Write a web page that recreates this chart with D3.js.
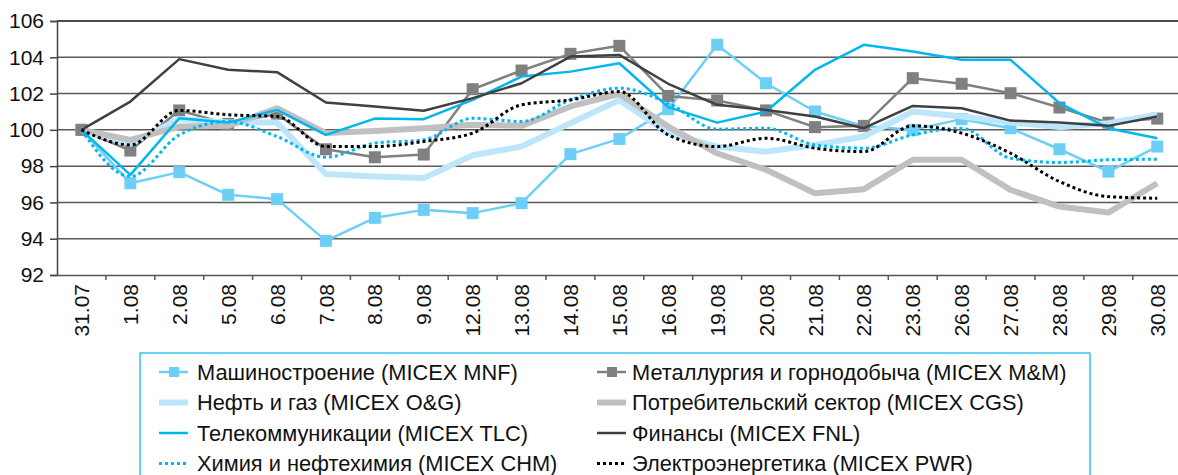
<!DOCTYPE html>
<html>
<head>
<meta charset="utf-8">
<script src="https://cdnjs.cloudflare.com/ajax/libs/d3/7.8.5/d3.min.js"></script>
<style>
  body { margin: 0; background: #fff; }
  svg text { font-family: "Liberation Sans", Arial, sans-serif; fill: #111; }
</style>
</head>
<body>
<div id="chart"></div>
<script>
// dates on the x axis
var dates = ["31.07","1.08","2.08","5.08","6.08","7.08","8.08","9.08","12.08","13.08","14.08",
  "15.08","16.08","19.08","20.08","21.08","22.08","23.08","26.08","27.08","28.08","29.08","30.08"];

var yTicks = [92, 94, 96, 98, 100, 102, 104, 106];

// sector indices, 31.07 = 100
var mnf = [100, 97.06, 97.67, 96.42, 96.18, 93.88, 95.15, 95.59, 95.41, 95.96, 98.66,
  99.5, 101.14, 104.69, 102.57, 101.01, 100.2, 100.0, 100.59, 100.09, 98.93, 97.7, 99.08];
var mm = [100, 98.86, 101.07, 100.33, 100.88, 98.93, 98.49, 98.64, 102.24, 103.27, 104.19,
  104.63, 101.87, 101.62, 101.07, 100.15, 100.22, 102.85, 102.54, 102.02, 101.23, 100.4, 100.62];
var og = [100, 99.23, 100.6, 100.4, 100.4, 97.57, 97.43, 97.34, 98.6, 99.08, 100.37,
  101.65, 99.82, 99.08, 98.8, 99.17, 99.63, 101.01, 100.74, 100.4, 100.15, 100.37, 100.83];
var cgs = [100, 99.45, 100.18, 100.22, 101.19, 99.82, 99.94, 100.09, 100.28, 100.22, 101.29,
  101.98, 100.18, 98.71, 97.8, 96.51, 96.73, 98.35, 98.35, 96.69, 95.77, 95.44, 97.06];
var tlc = [100, 97.52, 100.64, 100.4, 101.1, 99.72, 100.62, 100.59, 101.65, 102.94, 103.21,
  103.67, 101.25, 100.4, 101.01, 103.31, 104.69, 104.32, 103.86, 103.86, 101.47, 100.09, 99.54];
var fnl = [100, 101.56, 103.9, 103.31, 103.18, 101.51, 101.29, 101.05, 101.75, 102.57, 104.04,
  104.13, 102.54, 101.38, 101.1, 100.74, 100.09, 101.32, 101.19, 100.51, 100.4, 100.22, 100.74];
var chm = [100, 97.43, 99.72, 100.46, 99.63, 98.49, 99.27, 99.45, 100.64, 100.46, 101.65,
  102.3, 101.47, 100.04, 100.09, 99.17, 98.99, 99.72, 100.09, 98.44, 98.2, 98.35, 98.38];
var pwr = [100, 99.17, 101.07, 100.83, 100.74, 99.08, 99.08, 99.36, 99.82, 101.38, 101.65,
  102.11, 99.72, 99.08, 99.54, 98.99, 98.8, 100.22, 99.82, 98.71, 97.15, 96.32, 96.23];

var names = [
  "Машиностроение (MICEX MNF)",
  "Металлургия и горнодобыча (MICEX M&M)",
  "Нефть и газ (MICEX O&G)",
  "Потребительский сектор (MICEX CGS)",
  "Телекоммуникации (MICEX TLC)",
  "Финансы (MICEX FNL)",
  "Химия и нефтехимия (MICEX CHM)",
  "Электроэнергетика (MICEX PWR)"
];

var series = [
  {name: names[0], values: mnf, color: "#6dcff6", width: 2.5, marker: true},
  {name: names[1], values: mm,  color: "#808080", width: 2.5, marker: true},
  {name: names[2], values: og,  color: "#bde6fa", width: 6},
  {name: names[3], values: cgs, color: "#c0c0c0", width: 6},
  {name: names[4], values: tlc, color: "#00b7ef", width: 2.5},
  {name: names[5], values: fnl, color: "#404040", width: 2.5},
  {name: names[6], values: chm, color: "#00b7ef", width: 3, dash: "3,3", smooth: true},
  {name: names[7], values: pwr, color: "#000000", width: 3, dash: "3,3", smooth: true}
];

var W = 1178, H = 475;
var margin = {top: 21, left: 57, bottom: 200};

var svg = d3.select("#chart").append("svg")
  .attr("width", W)
  .attr("height", H);

var x = d3.scaleBand()
  .domain(dates)
  .range([margin.left, margin.left + 23 * 48.9]);

var y = d3.scaleLinear()
  .domain([92, 106])
  .range([H - margin.bottom, margin.top]);

// gridlines
svg.append("g")
  .selectAll("line")
  .data(yTicks.filter(function (d) { return d > 92; }))
  .enter().append("line")
    .attr("x1", margin.left)
    .attr("x2", W)
    .attr("y1", function (d) { return y(d); })
    .attr("y2", function (d) { return y(d); })
    .attr("stroke", function (d) { return d === 106 ? "#111" : "#5a5a5a"; })
    .attr("stroke-width", 1.5);

// y axis
var yAxis = d3.axisLeft(y).tickValues(yTicks).tickSize(7).tickPadding(6);
var gy = svg.append("g")
  .attr("transform", "translate(" + margin.left + ",0)")
  .call(yAxis);
gy.select(".domain").attr("stroke", "#444").attr("stroke-width", 1.5);
gy.selectAll(".tick line").attr("stroke", "#444").attr("stroke-width", 1.5);
gy.selectAll("text").style("font-size", "21px").attr("fill", "#111");

// x axis: ticks between categories
var xAxis = d3.axisBottom(x).tickSize(0).tickPadding(0);
var gx = svg.append("g")
  .attr("transform", "translate(0," + y(92) + ")")
  .call(xAxis);
gx.select(".domain").attr("stroke", "#555").attr("stroke-width", 1.5);
gx.selectAll("text")
  .style("font-size", "21px")
  .attr("fill", "#111")
  .attr("text-anchor", "end")
  .attr("dy", "0.36em")
  .attr("transform", "translate(0,9) rotate(-90)");
gx.selectAll(".sep")
  .data(dates)
  .enter().append("line")
    .attr("class", "sep")
    .attr("x1", function (d) { return x(d) + x.bandwidth(); })
    .attr("x2", function (d) { return x(d) + x.bandwidth(); })
    .attr("y1", 0)
    .attr("y2", 5)
    .attr("stroke", "#555")
    .attr("stroke-width", 1.5);

// lines
var cx = function (d, i) { return x(dates[i]) + x.bandwidth() / 2; };

series.forEach(function (s) {
  var line = d3.line()
    .x(cx)
    .y(function (d) { return y(d); })
    .curve(s.smooth ? d3.curveMonotoneX : d3.curveLinear);

  var g = svg.append("g");
  g.append("path")
    .datum(s.values)
    .attr("d", line)
    .attr("fill", "none")
    .attr("stroke", s.color)
    .attr("stroke-width", s.width)
    .attr("stroke-linejoin", "round")
    .attr("stroke-dasharray", s.dash || null);

  if (s.marker) {
    g.selectAll("rect")
      .data(s.values)
      .enter().append("rect")
        .attr("x", function (d, i) { return cx(d, i) - 6; })
        .attr("y", function (d) { return y(d) - 6; })
        .attr("width", 12)
        .attr("height", 12)
        .attr("fill", s.color);
  }
});

// legend
var legend = svg.append("g");
legend.append("rect")
  .attr("x", 140)
  .attr("y", 353)
  .attr("width", 950)
  .attr("height", 140)
  .attr("fill", "none")
  .attr("stroke", "#00b7ef")
  .attr("stroke-width", 1.2);

var order = [0, 2, 4, 6, 1, 3, 5, 7];
order.forEach(function (idx, k) {
  var s = series[idx];
  var col = Math.floor(k / 4), row = k % 4;
  var lx = col === 0 ? 159 : 597;
  var ly = 372 + row * 30.5;
  var item = legend.append("g");
  item.append("line")
    .attr("x1", lx).attr("x2", lx + 29)
    .attr("y1", ly).attr("y2", ly)
    .attr("stroke", s.color)
    .attr("stroke-width", s.width)
    .attr("stroke-dasharray", s.dash || null);
  if (s.marker) {
    item.append("rect")
      .attr("x", lx + 10).attr("y", ly - 5)
      .attr("width", 10).attr("height", 10)
      .attr("fill", s.color);
  }
  item.append("text")
    .attr("x", lx + (col === 0 ? 38 : 35))
    .attr("y", ly)
    .attr("dy", "0.35em")
    .style("font-size", "21.8px")
    .text(s.name);
});
</script>
</body>
</html>
